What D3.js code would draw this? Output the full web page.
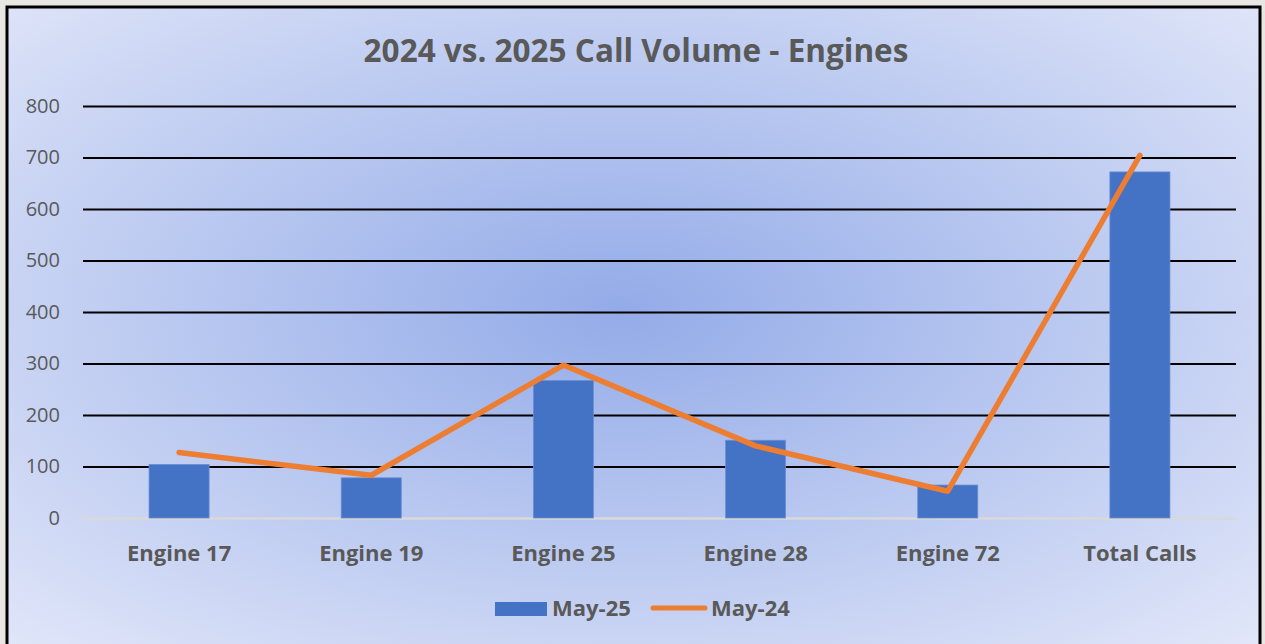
<!DOCTYPE html>
<html>
<head>
<meta charset="utf-8">
<script src="https://cdn.jsdelivr.net/npm/d3@7"></script>
<style>
  html, body { margin: 0; padding: 0; background: #e9e7e3; }
  svg { display: block; }
  text { font-family: "Open Sans", sans-serif; }
</style>
</head>
<body>
<svg id="chart" width="1265" height="644"></svg>
<script>
const categories = ["Engine 17", "Engine 19", "Engine 25", "Engine 28", "Engine 72", "Total Calls"];
const may25 = [104, 78, 267, 151, 64, 672];
const may24 = [127, 83, 297, 140, 52, 704];
const yTicks = [0, 100, 200, 300, 400, 500, 600, 700, 800];
const seriesNames = ["May-25", "May-24"];

const svg = d3.select("#chart");
const W = 1265, H = 644;
const margin = { top: 106, right: 29, bottom: 126, left: 83 };
const width = W - margin.left - margin.right;
const height = H - margin.top - margin.bottom;

// background gradient
const defs = svg.append("defs");
const grad = defs.append("radialGradient")
  .attr("id", "bg")
  .attr("cx", 0.49).attr("cy", 0.46).attr("r", 0.72);
grad.append("stop").attr("offset", 0).attr("stop-color", "#93abe8");
grad.append("stop").attr("offset", 1).attr("stop-color", "#e2e7f9");

svg.append("rect")
  .attr("x", 7).attr("y", 7)
  .attr("width", 1253).attr("height", 660)
  .attr("fill", "url(#bg)")
  .attr("stroke", "#000")
  .attr("stroke-width", 3);

svg.append("text")
  .attr("x", 636).attr("y", 62)
  .attr("text-anchor", "middle")
  .attr("font-size", 31.5)
  .attr("font-weight", "bold")
  .attr("fill", "#595959")
  .text("2024 vs. 2025 Call Volume - Engines");

const g = svg.append("g").attr("transform", `translate(${margin.left},${margin.top})`);

const x = d3.scaleBand().domain(categories).range([0, width]);
const y = d3.scaleLinear().domain([0, 800]).range([height, 0]);

// y axis with gridlines
const yAxis = g.append("g")
  .call(d3.axisLeft(y).tickValues(yTicks).tickSize(-width).tickPadding(23));
yAxis.select(".domain").remove();
yAxis.selectAll(".tick line")
  .attr("stroke", d => d === 0 ? "#d9d9d9" : "#000")
  .attr("stroke-width", d => d === 0 ? 2.5 : 2);
yAxis.selectAll(".tick text")
  .attr("font-size", 20)
  .attr("fill", "#595959")
  .style("font-family", "'Open Sans', sans-serif");

// x axis labels
const xAxis = g.append("g")
  .attr("transform", `translate(0,${height})`)
  .call(d3.axisBottom(x).tickSize(0).tickPadding(27));
xAxis.select(".domain").remove();
xAxis.selectAll(".tick text")
  .attr("font-size", 22)
  .attr("font-weight", "bold")
  .attr("fill", "#595959")
  .style("font-family", "'Open Sans', sans-serif");

// bars
const barW = x.bandwidth() * 0.3125;
g.selectAll(".bar")
  .data(may25)
  .join("rect")
  .attr("class", "bar")
  .attr("x", (d, i) => x(categories[i]) + x.bandwidth() / 2 - barW / 2)
  .attr("y", d => y(d))
  .attr("width", barW)
  .attr("height", d => height - y(d))
  .attr("fill", "#4472c4")
  .attr("stroke", "#6a8fd4")
  .attr("stroke-width", 0.8);

// line
const line = d3.line()
  .x((d, i) => x(categories[i]) + x.bandwidth() / 2)
  .y(d => y(d));
g.append("path")
  .datum(may24)
  .attr("d", line)
  .attr("fill", "none")
  .attr("stroke", "#ed7d31")
  .attr("stroke-width", 5.5)
  .attr("stroke-linejoin", "round")
  .attr("stroke-linecap", "round");

// legend
const legend = svg.append("g");
legend.append("rect")
  .attr("x", 495).attr("y", 602)
  .attr("width", 52).attr("height", 14)
  .attr("fill", "#4472c4");
legend.append("text")
  .attr("x", 552).attr("y", 616)
  .attr("font-size", 22).attr("font-weight", "bold").attr("fill", "#595959")
  .text(seriesNames[0]);
legend.append("line")
  .attr("x1", 653).attr("x2", 705)
  .attr("y1", 608).attr("y2", 608)
  .attr("stroke", "#ed7d31")
  .attr("stroke-width", 5)
  .attr("stroke-linecap", "round");
legend.append("text")
  .attr("x", 711).attr("y", 616)
  .attr("font-size", 22).attr("font-weight", "bold").attr("fill", "#595959")
  .text(seriesNames[1]);
</script>
</body>
</html>
